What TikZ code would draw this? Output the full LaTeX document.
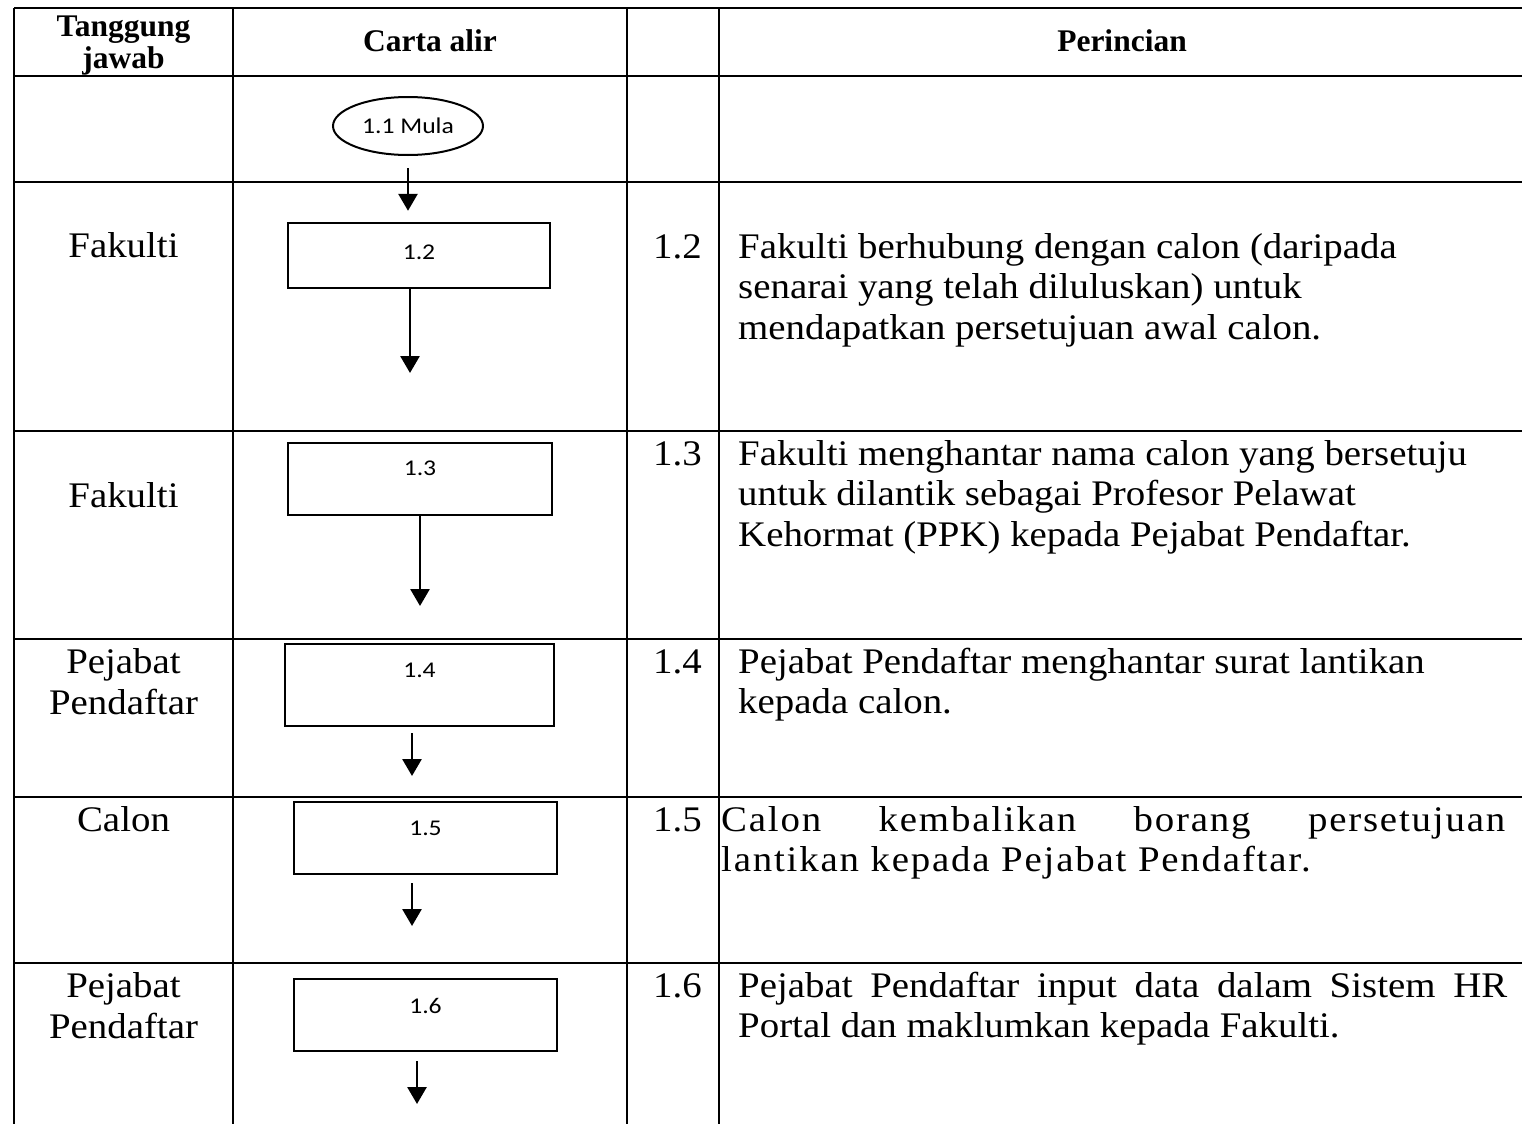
\documentclass[tikz,border=0pt]{standalone}
\usepackage{fontspec}
\setmainfont[FakeStretch=1.08]{Liberation Serif}
\newfontfamily\headfont{Liberation Serif}
\newfontfamily\boxfont[FakeStretch=1.14]{Carlito}
\usetikzlibrary{arrows.meta,shapes.geometric}

\tikzset{
  rule/.style={line width=2.2pt},
  stepbox/.style={draw, line width=2.4pt, inner sep=0pt},
  boxlbl/.style={anchor=center, yshift=-28pt, inner sep=0pt, font=\boxfont\fontsize{22.5}{26}\selectfont},
  flow/.style={line width=2.8pt, -{Triangle[width=19pt,length=17pt]}},
  txt/.style={inner sep=0pt, font=\fontsize{36}{40.5}\selectfont},
  head/.style={inner sep=0pt, anchor=base, align=center, font=\headfont\bfseries\fontsize{31.5}{32}\selectfont},
}

\begin{document}
\begin{tikzpicture}[x=1pt,y=-1pt]
\useasboundingbox (0,0) rectangle (1522,1124);

% Table
\foreach \y in {8,76,182,431,639,797,963}
  \draw[rule] (14,\y) -- (1522,\y);
\foreach \x in {14,233,627,719}
  \draw[rule] (\x,8) -- (\x,1124);

% Header (base = last line)
\node[head] (H1) at (123.5,68) {Tanggung\\jawab};
\node[head] (H2) at (430,52) {Carta alir};
\node[head] (H4) at (1122,52) {Perincian};

% Flow chart
\node[draw, ellipse, line width=2pt, minimum width=150pt, minimum height=58pt, inner sep=0pt,
      font=\boxfont\fontsize{22.5}{26}\selectfont] (mula) at (408,126) {1.1 Mula};

\node[stepbox, minimum width=262pt, minimum height=65pt,
      label={[boxlbl, yshift=-2pt]north:1.2}] (s12) at (419,255.5) {};
\node[stepbox, minimum width=264pt, minimum height=72pt,
      label={[boxlbl, yshift=2pt]north:1.3}] (s13) at (420,479) {};
\node[stepbox, minimum width=269pt, minimum height=82pt,
      label={[boxlbl]north:1.4}] (s14) at (419.5,685) {};
\node[stepbox, minimum width=263pt, minimum height=72pt,
      label={[boxlbl]north:1.5}] (s15) at (425.5,838) {};
\node[stepbox, minimum width=263pt, minimum height=72pt,
      label={[boxlbl]north:1.6}] (s16) at (425.5,1015) {};

\coordinate (t12) at (410,373);
\coordinate (t13) at (420,606);
\coordinate (t14) at (412,776);
\coordinate (t15) at (412,926);
\coordinate (t16) at (417,1104);

\draw[flow, shorten <=12pt, shorten >=11pt] (mula.south) -- (mula.south |- s12.north);
\draw[flow] (s12.south -| t12) -- (t12);
\draw[flow] (s13.south -| t13) -- (t13);
\draw[flow, shorten <=6pt] (s14.south -| t14) -- (t14);
\draw[flow, shorten <=8pt] (s15.south -| t15) -- (t15);
\draw[flow, shorten <=9pt] (s16.south -| t16) -- (t16);

% Tanggung jawab
\node[txt, anchor=base, align=center] (F2) at (123.5,257) {Fakulti};
\node[txt, anchor=base, align=center] (F3) at (123.5,507) {Fakulti};
\node[txt, anchor=base, align=center] (P4) at (123.5,714) {Pejabat\\Pendaftar};
\node[txt, anchor=base, align=center] (C5) at (123.5,831) {Calon};
\node[txt, anchor=base, align=center] (P6) at (123.5,1038) {Pejabat\\Pendaftar};

% Step numbers
\node[txt, anchor=base east] (N2) at (702,258) {1.2};
\node[txt, anchor=base east] (N3) at (702,465) {1.3};
\node[txt, anchor=base east] (N4) at (702,673) {1.4};
\node[txt, anchor=base east] (N5) at (702,831) {1.5};
\node[txt, anchor=base east] (N6) at (702,997) {1.6};

% Perincian
\node[txt, anchor=base west, align=left] (D2) at (738,339)
  {Fakulti berhubung dengan calon (daripada\\senarai yang telah diluluskan) untuk\\mendapatkan persetujuan awal calon.};
\node[txt, anchor=base west, align=left] (D3) at (738,546)
  {Fakulti menghantar nama calon yang bersetuju\\untuk dilantik sebagai Profesor Pelawat\\Kehormat (PPK) kepada Pejabat Pendaftar.};
\node[txt, anchor=base west, align=left] (D4) at (738,713.5)
  {Pejabat Pendaftar menghantar surat lantikan\\kepada calon.};
\node[txt, anchor=base west, align=left] (D5) at (721,871.5)
  {\addfontfeature{LetterSpace=5}\makebox[784pt][s]{Calon kembalikan borang persetujuan}\\
   \addfontfeature{LetterSpace=5}lantikan kepada Pejabat Pendaftar.};
\node[txt, anchor=base west, align=left] (D6) at (738,1037.5)
  {\makebox[769pt][s]{Pejabat Pendaftar input data dalam Sistem HR}\\Portal dan maklumkan kepada Fakulti.};

\end{tikzpicture}
\end{document}
